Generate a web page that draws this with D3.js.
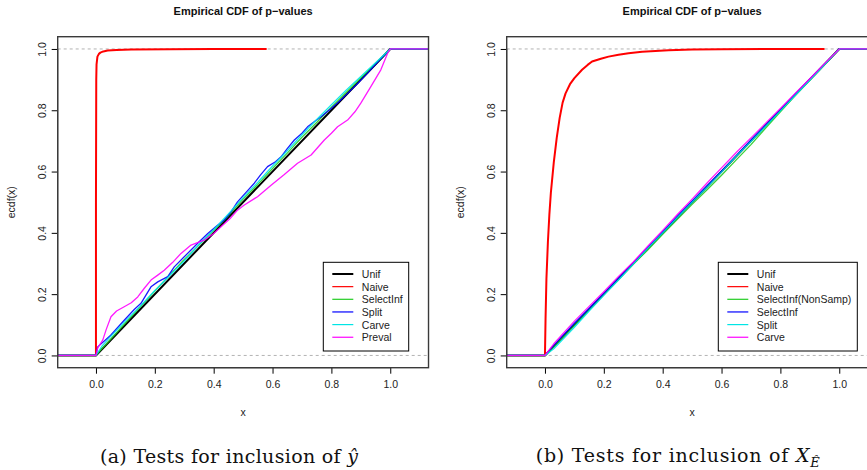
<!DOCTYPE html>
<html><head><meta charset="utf-8">
<script src="https://cdn.jsdelivr.net/npm/d3@7"></script>
<style>body{margin:0;background:#fff;}svg{display:block;font-family:"Liberation Sans",Arial,sans-serif;}</style>
</head><body>
<svg id="c" width="867" height="470"></svg>
<script>
// ---- data ----
const title = "Empirical CDF of p\u2212values";
const xTicks = [0, 0.2, 0.4, 0.6, 0.8, 1.0];
const yTicks = [0, 0.2, 0.4, 0.6, 0.8, 1.0];
const xDomain = [-0.13, 1.13];
const yDomain = [-0.04, 1.04];

const legendA = ["Unif", "Naive", "SelectInf", "Split", "Carve", "Preval"];
const legendB = ["Unif", "Naive", "SelectInf(NonSamp)", "SelectInf", "Split", "Carve"];
const colors = ["#000000", "#ff0000", "#22cc22", "#0000ff", "#00e5e5", "#ff00ff"];

// panel (a)
const aUnif = [[-0.13,0],[0,0],[1,1],[1.13,1]];
const aNaive = [[0,0],[0,0.5],[0.001,0.9],[0.002,0.95],[0.005,0.975],[0.01,0.984],[0.015,0.988],[0.025,0.992],[0.04,0.995],[0.07,0.997],[0.12,0.998],[0.25,0.999],[0.4,1],[0.58,1]];
const aSelectInf = [[-0.13,0],[0,0],[0.02,0.022],[0.05,0.053],[0.1,0.106],[0.15,0.158],[0.2,0.21],[0.25,0.262],[0.3,0.313],[0.35,0.36],[0.4,0.408],[0.45,0.456],[0.5,0.51],[0.55,0.558],[0.6,0.61],[0.65,0.66],[0.7,0.712],[0.75,0.76],[0.8,0.81],[0.85,0.858],[0.9,0.905],[0.95,0.952],[1,1],[1.13,1]];
const aSplit = [[-0.13,0],[0,0],[0.006,0.028],[0.05,0.066],[0.096,0.115],[0.13,0.15],[0.153,0.17],[0.175,0.205],[0.187,0.224],[0.21,0.24],[0.244,0.257],[0.266,0.289],[0.3,0.322],[0.323,0.344],[0.35,0.37],[0.38,0.398],[0.41,0.422],[0.436,0.442],[0.46,0.47],[0.481,0.501],[0.51,0.532],[0.538,0.562],[0.56,0.59],[0.583,0.616],[0.61,0.632],[0.629,0.648],[0.65,0.675],[0.674,0.703],[0.7,0.725],[0.719,0.746],[0.745,0.765],[0.765,0.779],[0.799,0.806],[0.83,0.832],[0.855,0.855],[0.89,0.888],[0.923,0.921],[0.95,0.95],[0.98,0.98],[1,1],[1.13,1]];
const aCarve = [[-0.13,0],[0,0],[0.02,0.03],[0.05,0.062],[0.1,0.112],[0.15,0.16],[0.2,0.212],[0.25,0.26],[0.3,0.308],[0.35,0.362],[0.4,0.41],[0.45,0.462],[0.5,0.515],[0.55,0.565],[0.6,0.618],[0.65,0.668],[0.7,0.72],[0.75,0.77],[0.8,0.818],[0.85,0.865],[0.9,0.91],[0.95,0.955],[0.98,0.982],[1,1],[1.13,1]];
const aPreval = [[-0.13,0],[0,0],[0.006,0.025],[0.023,0.05],[0.035,0.085],[0.051,0.126],[0.07,0.145],[0.096,0.159],[0.12,0.172],[0.142,0.191],[0.165,0.22],[0.187,0.246],[0.21,0.262],[0.232,0.278],[0.26,0.303],[0.289,0.333],[0.323,0.36],[0.345,0.368],[0.368,0.376],[0.4,0.398],[0.425,0.42],[0.455,0.446],[0.481,0.474],[0.504,0.491],[0.549,0.518],[0.595,0.555],[0.64,0.59],[0.685,0.627],[0.731,0.654],[0.755,0.68],[0.776,0.703],[0.8,0.725],[0.821,0.746],[0.855,0.768],[0.88,0.795],[0.9,0.823],[0.934,0.877],[0.968,0.932],[0.991,0.986],[1,1],[1.13,1]];

// panel (b)
const bUnif = [[-0.13,0],[0,0],[1,1],[1.13,1]];
const bNaive = [[0,0],[0.001,0.06],[0.002,0.12],[0.005,0.25],[0.01,0.37],[0.015,0.46],[0.02,0.53],[0.03,0.63],[0.04,0.71],[0.05,0.775],[0.06,0.825],[0.07,0.855],[0.085,0.885],[0.1,0.905],[0.126,0.932],[0.145,0.948],[0.16,0.959],[0.19,0.968],[0.216,0.975],[0.25,0.981],[0.284,0.986],[0.33,0.991],[0.42,0.996],[0.5,0.998],[0.6,0.999],[0.75,1],[0.95,1]];
const bSelNon = [[-0.13,0],[0,0],[0.03,0.028],[0.1,0.098],[0.15,0.148],[0.2,0.2],[0.25,0.248],[0.3,0.297],[0.35,0.345],[0.4,0.395],[0.45,0.444],[0.5,0.493],[0.55,0.54],[0.6,0.588],[0.65,0.638],[0.7,0.688],[0.75,0.742],[0.8,0.795],[0.85,0.848],[0.9,0.898],[0.95,0.948],[1,1],[1.13,1]];
const bSelectInf = [[-0.13,0],[0,0],[0.03,0.033],[0.1,0.105],[0.15,0.153],[0.2,0.203],[0.25,0.252],[0.3,0.302],[0.35,0.353],[0.4,0.403],[0.45,0.455],[0.5,0.504],[0.55,0.553],[0.6,0.602],[0.65,0.652],[0.7,0.703],[0.75,0.752],[0.8,0.802],[0.85,0.852],[0.9,0.902],[0.95,0.951],[1,1],[1.13,1]];
const bSplit = [[-0.13,0],[0,0],[0.03,0.022],[0.1,0.092],[0.15,0.145],[0.2,0.196],[0.25,0.246],[0.3,0.298],[0.35,0.35],[0.4,0.4],[0.45,0.45],[0.5,0.5],[0.55,0.548],[0.6,0.598],[0.65,0.65],[0.7,0.698],[0.75,0.748],[0.8,0.798],[0.85,0.848],[0.9,0.898],[0.95,0.948],[1,1],[1.13,1]];
const bCarve = [[-0.13,0],[0,0],[0.03,0.038],[0.1,0.112],[0.15,0.16],[0.2,0.208],[0.25,0.258],[0.3,0.305],[0.35,0.357],[0.4,0.408],[0.45,0.46],[0.5,0.51],[0.55,0.562],[0.6,0.612],[0.65,0.662],[0.7,0.71],[0.75,0.758],[0.8,0.806],[0.85,0.855],[0.9,0.903],[0.95,0.952],[0.99,0.99],[1,1],[1.13,1]];

const seriesA = [aUnif, aNaive, aSelectInf, aSplit, aCarve, aPreval];
const seriesB = [bUnif, bNaive, bSelNon, bSelectInf, bSplit, bCarve];

// ---- drawing ----
const svg = d3.select("#c");
function panel(ox, series, labels, legendBox) {
  const left = ox + 57.7, right = left + (1.13 + 0.13) * 294.3;
  const top = 36.7, bottom = 367.7;
  const x = d3.scaleLinear().domain(xDomain).range([left, right]);
  const y = d3.scaleLinear().domain(yDomain).range([bottom, top]);
  const g = svg.append("g");
  g.append("text").attr("x", (left + right) / 2).attr("y", 15).attr("text-anchor", "middle")
    .attr("font-weight", "bold").attr("font-size", 11).attr("fill", "#111").text(title);
  // dashed reference lines
  [0, 1].forEach(v => g.append("line").attr("x1", left).attr("x2", right)
    .attr("y1", y(v)).attr("y2", y(v)).attr("stroke", "#b3b3b3").attr("stroke-width", 1)
    .attr("stroke-dasharray", "3,3"));
  const line = d3.line().x(d => x(d[0])).y(d => y(d[1]));
  series.forEach((s, i) => {
    g.append("path").datum(s).attr("d", line).attr("fill", "none")
      .attr("stroke", colors[i]).attr("stroke-width", i === 0 ? 2 : (i === 1 ? 2 : 1.3))
      .attr("stroke-opacity", i > 1 ? 0.9 : 1).attr("stroke-linejoin", "round");
  });
  // axes
  const xa = g.append("g").attr("transform", `translate(0,${bottom})`)
    .call(d3.axisBottom(x).tickValues(xTicks).tickFormat(d3.format(".1f")).tickSize(6).tickSizeOuter(0));
  xa.select(".domain").attr("d", `M${x(0)},0H${x(1)}`);
  xa.selectAll("text").attr("font-size", 10.5).attr("font-family", "Liberation Sans, Arial, sans-serif").attr("fill", "#222").attr("dy", "1.05em");
  const ya = g.append("g").attr("transform", `translate(${left},0)`)
    .call(d3.axisLeft(y).tickValues(yTicks).tickFormat(d3.format(".1f")).tickSize(6).tickSizeOuter(0));
  ya.select(".domain").attr("d", `M0,${y(0)}V${y(1)}`);
  ya.selectAll(".tick text").attr("font-size", 10.5).attr("font-family", "Liberation Sans, Arial, sans-serif")
    .attr("fill", "#222").attr("text-anchor", "middle").attr("x", 0).attr("dy", 0)
    .attr("transform", "translate(-16,0) rotate(-90)").attr("dominant-baseline", "central");
  // box
  g.append("rect").attr("x", left).attr("y", top).attr("width", right - left).attr("height", bottom - top)
    .attr("fill", "none").attr("stroke", "#3a3a3a").attr("stroke-width", 1.4);
  // axis labels
  g.append("text").attr("x", (left + right) / 2).attr("y", 416).attr("text-anchor", "middle")
    .attr("font-size", 10.5).attr("fill", "#222").text("x");
  g.append("text").attr("transform", `translate(${left - 43},${(top + bottom) / 2}) rotate(-90)`)
    .attr("text-anchor", "middle").attr("font-size", 10.5).attr("fill", "#222").text("ecdf(x)");
  // legend
  const lg = g.append("g");
  lg.append("rect").attr("x", legendBox.x).attr("y", 262.3).attr("width", legendBox.w).attr("height", 88.7)
    .attr("fill", "#fff").attr("stroke", "#000").attr("stroke-width", 1);
  labels.forEach((lab, i) => {
    const yy = 274 + i * 12.65;
    lg.append("line").attr("x1", legendBox.x + 9).attr("x2", legendBox.x + 30).attr("y1", yy).attr("y2", yy)
      .attr("stroke", colors[i]).attr("stroke-width", i === 0 ? 2 : 1.2);
    lg.append("text").attr("x", legendBox.x + 38.5).attr("y", yy).attr("dominant-baseline", "central")
      .attr("font-size", 10.5).attr("fill", "#222").text(lab);
  });
}
panel(0, seriesA, legendA, {x: 323.3, w: 85.4});
panel(449, seriesB, legendB, {x: 718.3, w: 139});

// captions
const capFont = "'DejaVu Serif','Liberation Serif',serif";
const ca = svg.append("text").attr("x", 100).attr("y", 463).attr("font-family", capFont).attr("font-size", 19)
  .attr("fill", "#111").attr("textLength", 258).attr("lengthAdjust", "spacing");
ca.append("tspan").text("(a) Tests for inclusion of ");
ca.append("tspan").attr("font-style", "italic").text("\u0177");
const cb = svg.append("text").attr("x", 535.7).attr("y", 462).attr("font-family", capFont).attr("font-size", 19)
  .attr("fill", "#111").attr("textLength", 284).attr("lengthAdjust", "spacing");
cb.append("tspan").text("(b) Tests for inclusion of ");
cb.append("tspan").attr("font-style", "italic").text("X");
cb.append("tspan").attr("font-style", "italic").attr("font-size", 13).attr("dy", 5).text("\u00CA");
</script>
</body></html>
